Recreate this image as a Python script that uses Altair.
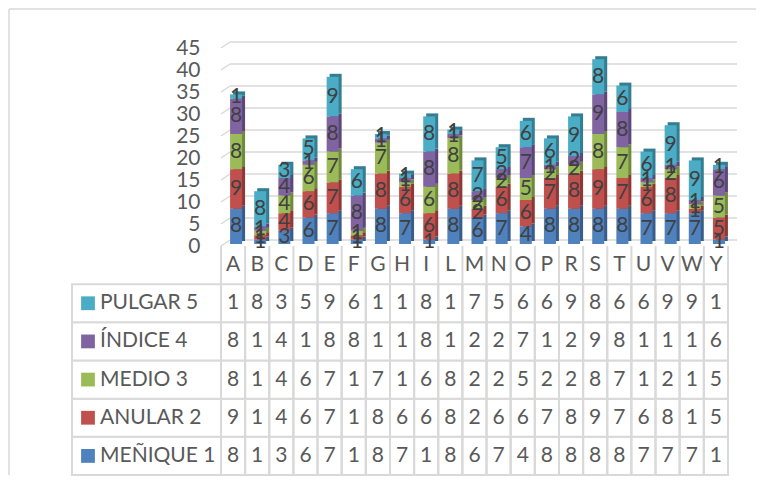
import altair as alt
import pandas as pd

letters = list("ABCDEFGHILMNOPRSTUVWY")
series = ["MEÑIQUE 1", "ANULAR 2", "MEDIO 3", "ÍNDICE 4", "PULGAR 5"]
menique = [8, 1, 3, 6, 7, 1, 8, 7, 1, 8, 6, 7, 4, 8, 8, 8, 8, 7, 7, 7, 1]
anular = [9, 1, 4, 6, 7, 1, 8, 6, 6, 8, 2, 6, 6, 7, 8, 9, 7, 6, 8, 1, 5]
medio = [8, 1, 4, 6, 7, 1, 7, 1, 6, 8, 2, 2, 5, 2, 2, 8, 7, 1, 2, 1, 5]
indice = [8, 1, 4, 1, 8, 8, 1, 1, 8, 1, 2, 2, 7, 1, 2, 9, 8, 1, 1, 1, 6]
pulgar = [1, 8, 3, 5, 9, 6, 1, 1, 8, 1, 7, 5, 6, 6, 9, 8, 6, 6, 9, 9, 1]
y_ticks = [0, 5, 10, 15, 20, 25, 30, 35, 40, 45]

front_colors = ["#4F81BD", "#C0504D", "#9BBB59", "#8064A2", "#4BACC6"]
side_colors = ["#385D8A", "#8C3836", "#71893F", "#5C4776", "#357D91"]

values = [menique, anular, medio, indice, pulgar]
rows = []
for k, (s, vals) in enumerate(zip(series, values)):
    for L, v in zip(letters, vals):
        rows.append({"letter": L, "series": s, "k": k, "value": v})
df = pd.DataFrame(rows)
ticks_df = pd.DataFrame({"t": y_ticks})

table_rows = ["_cat"] + series[::-1]
cat_df = pd.DataFrame({"letter": letters, "row": "_cat"})
legend_df = pd.DataFrame({"row": series, "series": series})

FONT = "Lato"
W = 507
H = 427
BAR_H = 198

xs = alt.Scale(domain=letters, paddingInner=0, paddingOuter=0)
X = alt.X("letter:N", scale=xs, axis=None)
yq = alt.Scale(domain=[0, 45], range=[BAR_H, 0], nice=False, zero=False)
yb = alt.Scale(domain=table_rows, range=[BAR_H, H], paddingInner=0, paddingOuter=0)
col_front = alt.Color("series:N", scale=alt.Scale(domain=series, range=front_colors), legend=None)
col_side = alt.Color("series:N", scale=alt.Scale(domain=series, range=side_colors), legend=None)

grid_col = "#d9d9d9"

grid = alt.Chart(ticks_df).mark_rule(color=grid_col, strokeWidth=1.5, yOffset=-6).encode(
    x=alt.value(9), x2=alt.value(516),
    y=alt.Y("t:Q", scale=yq, axis=alt.Axis(values=y_ticks, grid=False, domain=False, ticks=False,
                                           labelPadding=21, labelFontSize=21, labelFont=FONT,
                                           labelColor="#595959", title=None)),
)
diag = alt.Chart(ticks_df).mark_rule(color=grid_col, strokeWidth=1.5, y2Offset=-6).encode(
    x=alt.value(0), x2=alt.value(9),
    y=alt.Y("t:Q", scale=yq, axis=None), y2=alt.Y2("t"),
)

stacked = alt.Chart(df).transform_stack(
    stack="value", groupby=["letter"], as_=["y0", "y1"], sort=[alt.SortField("k", order="ascending")]
).transform_calculate(mid="(datum.y0 + datum.y1) / 2")

bars_side = stacked.mark_bar(size=12, xOffset=6, yOffset=-5, y2Offset=-5).encode(
    x=X, y=alt.Y("y0:Q", scale=yq, axis=None), y2="y1:Q", color=col_side,
)
bars_front = stacked.mark_bar(size=12, xOffset=3, yOffset=-2, y2Offset=-2).encode(
    x=X, y=alt.Y("y0:Q", scale=yq, axis=None), y2="y1:Q", color=col_front,
)
bar_text = stacked.mark_text(font=FONT, fontSize=21, color="#404040", xOffset=3, yOffset=-2,
                             baseline="middle").encode(
    x=X, y=alt.Y("mid:Q", scale=yq, axis=None), text="value:Q",
)

# table
cells = alt.Chart(df).mark_rect(fill="white", stroke=grid_col, strokeWidth=2).encode(
    x=X, y=alt.Y("series:N", scale=yb, axis=None),
)
legend_cells = alt.Chart(legend_df).mark_rect(fill="white", stroke=grid_col, strokeWidth=2).encode(
    x=alt.value(-149), x2=alt.value(0), y=alt.Y("row:N", scale=yb, axis=None),
)
vlines = alt.Chart(cat_df).mark_rule(color=grid_col, strokeWidth=2).encode(
    x=alt.X("letter:N", scale=xs, axis=None, bandPosition=0),
    y=alt.value(BAR_H), y2=alt.value(H),
)
vline_end = alt.Chart(cat_df.head(1)).mark_rule(color=grid_col, strokeWidth=2).encode(
    x=alt.value(W), y=alt.value(BAR_H), y2=alt.value(H),
)
table_text = alt.Chart(df).mark_text(font=FONT, fontSize=21, color="#595959", baseline="middle").encode(
    x=X, y=alt.Y("series:N", scale=yb, axis=None), text="value:Q",
)
cat_text = alt.Chart(cat_df).mark_text(font=FONT, fontSize=21, color="#595959", baseline="middle").encode(
    x=X, y=alt.Y("row:N", scale=yb, axis=None), text="letter:N",
)
legend_sq = alt.Chart(legend_df).mark_square(size=190, opacity=1).encode(
    x=alt.value(-133), y=alt.Y("row:N", scale=yb, axis=None), color=col_front,
)
legend_text = alt.Chart(legend_df).mark_text(font=FONT, fontSize=21, color="#595959", align="left",
                                             baseline="middle").encode(
    x=alt.value(-121), y=alt.Y("row:N", scale=yb, axis=None), text="series:N",
)

border_top = alt.Chart(ticks_df.head(1)).mark_rule(color=grid_col, strokeWidth=1.5).encode(
    x=alt.value(-212), x2=alt.value(535), y=alt.value(-39),
)
border_left = alt.Chart(ticks_df.head(1)).mark_rule(color=grid_col, strokeWidth=1.5).encode(
    x=alt.value(-212), y=alt.value(-39), y2=alt.value(H),
)

chart = alt.layer(
    grid, diag, border_top, border_left,
    cells, legend_cells, vlines, vline_end, table_text, cat_text, legend_sq, legend_text,
    bars_side, bars_front, bar_text,
).resolve_scale(y="independent", color="independent").properties(
    width=W, height=H, padding=0
).configure_view(stroke=None)

chart.save("out.html", embed_options={"renderer": "svg", "actions": False})
